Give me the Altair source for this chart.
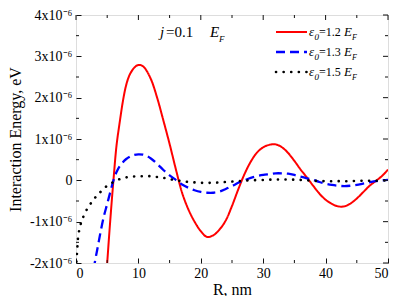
import altair as alt
import pandas as pd

# ---------------- data (energies in units of 1e-6 eV) ----------------
red_x = [4.5, 5, 5.5, 6, 6.5, 7, 7.5, 8, 8.5, 9, 9.5, 10, 10.5, 11, 12, 13, 14, 15, 16, 17, 18, 19, 20,
         21, 22, 23, 24, 25, 26, 27, 28, 29, 30, 31, 32, 33, 34, 35, 36, 37, 38, 39, 40, 41, 42,
         43, 44, 45, 46, 47, 48, 49, 50]
red_y = [-3.1, -2.0, -0.95, 0.0, 0.85, 1.4, 1.9, 2.28, 2.52, 2.66, 2.75, 2.79, 2.78, 2.72, 2.45, 2.0,
         1.45, 0.88, 0.27, -0.3, -0.7, -1.0, -1.23, -1.37, -1.33, -1.19, -0.97, -0.62, -0.22,
         0.15, 0.45, 0.67, 0.8, 0.86, 0.87, 0.8, 0.66, 0.47, 0.26, 0.07, -0.13, -0.32, -0.47,
         -0.57, -0.63, -0.63, -0.56, -0.44, -0.29, -0.14, -0.02, 0.1, 0.26]

blue_x = [2.5, 3, 3.5, 4, 4.5, 5, 5.5, 6, 6.5, 7, 8, 9, 10, 11, 12, 13, 14, 15, 16, 17, 18, 19, 20,
          21, 22, 23, 24, 25, 26, 27, 28, 29, 30, 31, 32, 33, 34, 35, 36, 37, 38, 39, 40, 41, 42,
          43, 44, 45, 46, 47, 48, 49, 50]
blue_y = [-2.5, -2.0, -1.6, -1.2, -0.85, -0.57, -0.28, 0.0, 0.2, 0.34, 0.51, 0.6, 0.63, 0.61, 0.53,
          0.4, 0.25, 0.12, 0.01, -0.1, -0.18, -0.24, -0.28, -0.3, -0.3, -0.27, -0.21, -0.14, -0.06,
          0.0, 0.06, 0.1, 0.13, 0.15, 0.17, 0.17, 0.16, 0.13, 0.09, 0.05, 0.01, -0.04, -0.08,
          -0.11, -0.13, -0.14, -0.13, -0.11, -0.08, -0.05, -0.02, 0.0, 0.01]

black_x = [0, 0.1, 0.2, 0.3, 0.5, 0.75, 1, 1.5, 2, 2.5, 3, 3.5, 4, 5, 6, 7, 8, 9, 10, 11, 12, 13, 14,
           15, 16, 17, 18, 19, 20, 21, 22, 23, 24, 25, 26, 27, 28, 30, 32, 34, 36, 38, 40, 42, 44,
           46, 48, 50]
black_y = [-2.15, -1.89, -1.68, -1.43, -1.22, -1.06, -0.95, -0.77, -0.64, -0.53, -0.43, -0.35, -0.27,
           -0.13, -0.04, 0.03, 0.07, 0.09, 0.1, 0.1, 0.1, 0.08, 0.06, 0.03, 0.0, -0.02, -0.04, -0.05,
           -0.06, -0.06, -0.06, -0.05, -0.04, -0.03, -0.02, -0.01, 0.0, 0.01, 0.02, 0.02, 0.01,
           -0.01, -0.02, -0.02, -0.02, -0.01, -0.01, 0.0]

series_names = ["1.2", "1.3", "1.5"]
x_major = [0, 10, 20, 30, 40, 50]
x_minor = [5, 15, 25, 35, 45]
y_major = [-2, -1, 0, 1, 2, 3, 4]
y_minor = [-1.5, -0.5, 0.5, 1.5, 2.5, 3.5]

W, H = 312, 248
FONT = "Liberation Serif"

df_red = pd.DataFrame({"R": red_x, "E": red_y, "s": series_names[0]})
df_blue = pd.DataFrame({"R": blue_x, "E": blue_y, "s": series_names[1]})
df_black = pd.DataFrame({"R": black_x, "E": black_y, "s": series_names[2]})

xscale = alt.Scale(domain=[0, 50], nice=False, zero=False)
yscale = alt.Scale(domain=[-2, 4], nice=False, zero=False)

# major ticks drawn inward by the axes themselves (negative size via expression)
main_x_axis = alt.Axis(values=x_major, ticks=True, tickSize={"expr": "-5"}, tickColor="#111111",
                       tickWidth=1, domain=False, grid=False,
                       labelFont=FONT, labelFontSize=14, labelColor="black", labelPadding=8,
                       title="R, nm", titleFont=FONT, titleFontSize=16, titleFontWeight="normal",
                       titleColor="black", titlePadding=1)
main_y_axis = alt.Axis(values=y_major, ticks=True, tickSize={"expr": "-5"}, tickColor="#111111",
                       tickWidth=1, domain=False, grid=False,
                       labelExpr="datum.value == 0 ? '0' : datum.value + 'x10\u207b\u2076'",
                       labelFont=FONT, labelFontSize=14, labelColor="black", labelPadding=9,
                       title="Interaction Energy, eV", titleFont=FONT, titleFontSize=16,
                       titleFontWeight="normal", titleColor="black", titlePadding=6)


def line_layer(df, color, dash, width, cap, axes=False):
    return alt.Chart(df).mark_line(
        color=color, strokeDash=dash, strokeWidth=width, strokeCap=cap,
        interpolate="catmull-rom", clip=True
    ).encode(
        x=alt.X("R:Q", scale=xscale, axis=main_x_axis if axes else None),
        y=alt.Y("E:Q", scale=yscale, axis=main_y_axis if axes else None),
    )


red = line_layer(df_red, "#ff0000", [1, 0], 2, "butt", axes=True)
blue = line_layer(df_blue, "#0000ff", [9, 5], 2.3, "butt")
black = line_layer(df_black, "black", [0.1, 7.5], 2.6, "round")


# remaining inward tick marks, positioned through the shared scales
def xticks(vals, y1, y2):
    return alt.Chart(pd.DataFrame({"t": vals})).mark_rule(color="#111111", strokeWidth=1).encode(
        x=alt.X("t:Q", scale=xscale, axis=None), y=alt.value(y1), y2=alt.value(y2))


def yticks(vals, x1, x2):
    return alt.Chart(pd.DataFrame({"t": vals})).mark_rule(color="#111111", strokeWidth=1).encode(
        y=alt.Y("t:Q", scale=yscale, axis=None), x=alt.value(x1), x2=alt.value(x2))


tick_layers = [
    xticks(x_minor, H, H - 3),
    xticks(x_major, 0, 5), xticks(x_minor, 0, 3),
    yticks(y_minor, 0, 3),
    yticks(y_major, W, W - 5), yticks(y_minor, W, W - 3),
]

one = pd.DataFrame({"k": [0]})


def txt(s, x, y, size, italic=False):
    return alt.Chart(one).mark_text(
        text=s, align="left", baseline="alphabetic", font=FONT, fontSize=size,
        fontStyle="italic" if italic else "normal", color="black"
    ).encode(x=alt.value(x), y=alt.value(y))


def seg(x1, x2, y, color, dash, width, cap):
    return alt.Chart(one).mark_rule(
        color=color, strokeDash=dash, strokeWidth=width, strokeCap=cap
    ).encode(x=alt.value(x1), x2=alt.value(x2), y=alt.value(y))


annot = [
    txt("j", 84, 22, 15, True),
    txt("=0.1", 90, 22, 15),
    txt("E", 134, 22, 15, True),
    txt("F", 143, 27, 9, True),
]

legend_styles = [("#ff0000", [1, 0], 2, "butt"), ("#0000ff", [9, 5], 2.3, "butt"),
                 ("black", [0.1, 7.5], 2.6, "round")]
legend = []
for i, (name, (col, dash, w, cap)) in enumerate(zip(series_names, legend_styles)):
    yc = 17 + 20 * i
    legend.append(seg(200, 231, yc, col, dash, w, cap))
    legend += [
        txt("\u03b5", 233, yc + 4, 13, True),
        txt("0", 238.5, yc + 8, 9, True),
        txt("=" + name, 243, yc + 4, 12),
        txt("E", 268, yc + 4, 13, True),
        txt("F", 276, yc + 8, 8, True),
    ]

chart = alt.layer(
    red, blue, black, *tick_layers, *annot, *legend
).resolve_axis(x="independent", y="independent").properties(
    width=W, height=H,
    autosize=alt.AutoSizeParams(type="none"),
    padding={"left": 68, "top": 7, "right": 3, "bottom": 33},
).configure_view(stroke="#222222", strokeWidth=1.5).configure(background="white")

chart.save("out.html", embed_options={"renderer": "svg", "actions": False})
